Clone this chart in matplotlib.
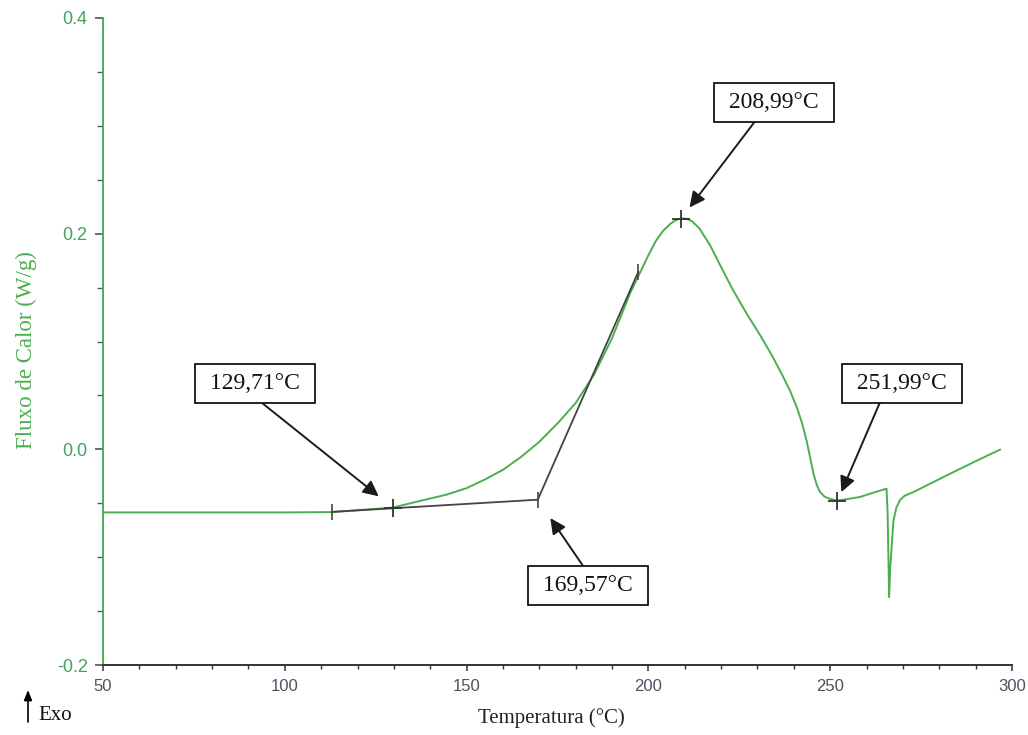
import numpy as np
import matplotlib
matplotlib.use('Agg')
import matplotlib.pyplot as plt
from matplotlib.ticker import MultipleLocator

# DSC curve
temp = [50, 100, 113, 120, 129.7, 137, 144.5, 150, 155, 160, 165, 170, 175,
        180, 185, 190, 195, 200, 202, 204, 206, 207.5, 209, 210.5, 212, 214,
        217, 220, 223.3, 227, 230.7, 234, 237.1, 239, 240.8, 242.3, 243.5,
        244.5, 245.4, 246.3, 247.2, 248.5, 250, 252, 255, 258.2, 262, 265.5,
        265.8, 266.2, 266.5, 266.9, 267.4, 268.2, 269.2, 270.5, 272.9, 278,
        283, 290, 296.7]
flux = [-0.0585, -0.0585, -0.0582, -0.0565, -0.054, -0.048, -0.042, -0.036,
        -0.028, -0.019, -0.007, 0.007, 0.024, 0.043, 0.069, 0.103, 0.145,
        0.180, 0.193, 0.2025, 0.209, 0.2125, 0.2142, 0.2138, 0.2115, 0.205,
        0.189, 0.169, 0.1475, 0.126, 0.106, 0.087, 0.067, 0.054, 0.039, 0.024,
        0.008, -0.008, -0.0226, -0.033, -0.0396, -0.044, -0.046, -0.0475,
        -0.046, -0.0442, -0.040, -0.0365, -0.06, -0.137, -0.11, -0.0906,
        -0.066, -0.054, -0.047, -0.043, -0.0396, -0.031, -0.0226, -0.011,
        -0.0003]

# onset construction (baseline + tangent)
base_t = [113, 169.57]
base_q = [-0.058, -0.0467]
tang_t = [169.57, 197.2]
tang_q = [-0.0467, 0.1645]

# marked events
event_t = [129.71, 169.57, 208.99, 251.99]
event_q = [-0.054, -0.0467, 0.214, -0.048]
event_lbl = ['129,71°C', '169,57°C', '208,99°C', '251,99°C']
cross_idx = [0, 2, 3]

green = '#4cae50'
serif = ['Liberation Serif', 'DejaVu Serif']

plt.rcParams['font.family'] = ['Liberation Sans', 'DejaVu Sans']

fig = plt.figure(figsize=(10.28, 7.35), dpi=100)
ax = fig.add_axes([103/1028, 1-665/735, 909/1028, 647/735])

ax.plot(temp, flux, color=green, lw=1.4, zorder=2)
ax.plot(base_t, base_q, color='#444444', lw=1.3, zorder=3)
ax.plot(tang_t, tang_q, color='#444444', lw=1.3, zorder=3)
ax.plot(base_t + [tang_t[1]], base_q + [tang_q[1]], ls='none', marker='|',
        ms=11, mew=1.2, color='#444444', zorder=4)
ax.plot([event_t[i] for i in cross_idx], [event_q[i] for i in cross_idx],
        ls='none', marker='+', ms=13, mew=1.3, color='#333333', zorder=4)

# text boxes: (x, y) position, arrow start on box, shrink at tip
box_pos = [(91.8, 0.061), (183.4, -0.126), (234.5, 0.322), (269.7, 0.061)]
rel = [(0.46, 0), (0.51, 1), (0.38, 0), (0.32, 0)]
shrink = [13, 16, 10, 7]
for t, q, lbl, bp, rp, sh in zip(event_t, event_q, event_lbl, box_pos, rel, shrink):
    ax.annotate(' ' + lbl + ' ', xy=(t, q), xytext=bp, ha='center', va='center',
                fontsize=17, family=serif, color='#111111',
                bbox=dict(boxstyle='square,pad=0.38', fc='white', ec='black', lw=1.2),
                arrowprops=dict(arrowstyle='-|>,head_length=0.55,head_width=0.27',
                                color='#1a1a1a', lw=1.4, shrinkA=0, shrinkB=sh,
                                relpos=rp),
                zorder=5)

ax.set_xlim(50, 300)
ax.set_ylim(-0.2, 0.4)
ax.xaxis.set_major_locator(MultipleLocator(50))
ax.xaxis.set_minor_locator(MultipleLocator(10))
ax.yaxis.set_major_locator(MultipleLocator(0.2))
ax.yaxis.set_minor_locator(MultipleLocator(0.05))
ax.yaxis.set_major_formatter(plt.FormatStrFormatter('%.1f'))

for s in ['top', 'right']:
    ax.spines[s].set_visible(False)
ax.spines['left'].set_color(green)
ax.spines['left'].set_linewidth(1.4)
ax.spines['bottom'].set_color('#333333')
ax.spines['bottom'].set_linewidth(1.4)

ax.tick_params(axis='x', which='major', length=4, width=1.1, color='#333333',
               labelsize=12, labelcolor='#4d5260', pad=6)
ax.tick_params(axis='x', which='minor', length=3, width=1.0, color='#333333')
ax.tick_params(axis='y', which='major', length=6, width=1.1, color='#444444',
               labelsize=13, labelcolor='#45a060', pad=5)
ax.tick_params(axis='y', which='minor', length=4, width=1.0, color='#555555')

fig.text(26/1028, 1-350/735, 'Fluxo de Calor (W/g)', rotation=90, ha='center',
         va='center', fontsize=16.5, family=serif, color=green)
fig.text(551/1028, 1-718/735, 'Temperatura (°C)', ha='center', va='center',
         fontsize=15, family=serif, color='#222222')

ax.annotate('', xy=(28/1028, 1-690/735), xytext=(28/1028, 1-722/735),
            xycoords='figure fraction', textcoords='figure fraction',
            arrowprops=dict(arrowstyle='-|>,head_length=0.5,head_width=0.2',
                            color='black', lw=1.2, shrinkA=0, shrinkB=0,
                            mutation_scale=12))
fig.text(38/1028, 1-715/735, 'Exo', ha='left', va='center', fontsize=15,
         family=serif, color='#111111')

fig.savefig('out.png', dpi=100)
